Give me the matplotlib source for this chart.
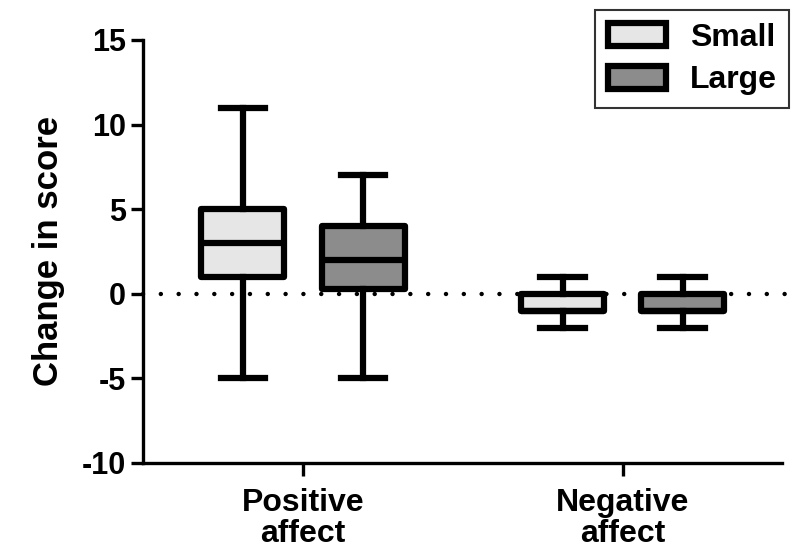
import matplotlib
matplotlib.use("Agg")
import matplotlib.pyplot as plt
from matplotlib.patches import Patch

plt.rcParams['font.family'] = ['Liberation Sans', 'DejaVu Sans']
plt.rcParams['font.weight'] = 'bold'
plt.rcParams['axes.unicode_minus'] = False

# data
categories = ['Positive\naffect', 'Negative\naffect']
groups = ['Small', 'Large']
colors = ['#e6e6e6', '#8c8c8c']
# per group: (whislo, q1, med, q3, whishi) for each category
stats = {
    'Small': [(-5, 1, 3, 5, 11), (-2, -1, -1, 0, 1)],
    'Large': [(-5, 0.3, 2, 4, 7), (-2, -1, -1, 0, 1)],
}

fig = plt.figure(figsize=(8, 5.55), dpi=100)
ax = fig.add_axes([0.179, 0.166, 0.799, 0.762])

offsets = [-0.188, 0.188]
lw = 4.5
for gi, g in enumerate(groups):
    bxpstats = []
    for lo, q1, med, q3, hi in stats[g]:
        bxpstats.append(dict(whislo=lo, q1=q1, med=med, q3=q3, whishi=hi, fliers=[]))
    pos = [i + 1 + offsets[gi] for i in range(len(categories))]
    ax.bxp(bxpstats, positions=pos, widths=0.26, patch_artist=True, showfliers=False,
           boxprops=dict(facecolor=colors[gi], edgecolor='black', linewidth=lw, joinstyle='round'),
           medianprops=dict(color='black', linewidth=lw),
           whiskerprops=dict(color='black', linewidth=lw),
           capprops=dict(color='black', linewidth=lw), capwidths=0.14)

# dotted zero line, runs slightly past the axis end
ax.plot([0.5, 2.54], [0, 0], color='black', linestyle=(0, (0.01, 4)), linewidth=3.2,
        dash_capstyle='round', zorder=0, clip_on=False)

ax.set_xlim(0.5, 2.5)
ax.set_ylim(-10, 15)
ax.set_yticks([-10, -5, 0, 5, 10, 15])
ax.set_xticks([1, 2])
ax.set_xticklabels(categories, fontsize=23, fontweight='bold', linespacing=1.05)
ax.tick_params(axis='y', labelsize=22, width=2.4, length=9)
ax.tick_params(axis='x', width=2.4, length=9, pad=9)
for lab in ax.get_yticklabels():
    lab.set_fontweight('bold')
ax.set_ylabel('Change in score', fontsize=25, fontweight='bold', labelpad=12)

for s in ['top', 'right']:
    ax.spines[s].set_visible(False)
for s in ['left', 'bottom']:
    ax.spines[s].set_linewidth(2.4)

handles = [Patch(facecolor=c, edgecolor='black', linewidth=4.5, joinstyle='round') for c in colors]
leg = ax.legend(handles, groups, loc='upper right', bbox_to_anchor=(1.011, 1.071),
                fontsize=23, frameon=True, fancybox=False, edgecolor='black',
                handlelength=1.8, handleheight=0.75, borderpad=0.4, labelspacing=0.4,
                handletextpad=0.75, borderaxespad=0)
leg.get_frame().set_linewidth(1.5)
for t in leg.get_texts():
    t.set_fontweight('bold')

fig.savefig('out.png', dpi=100)
